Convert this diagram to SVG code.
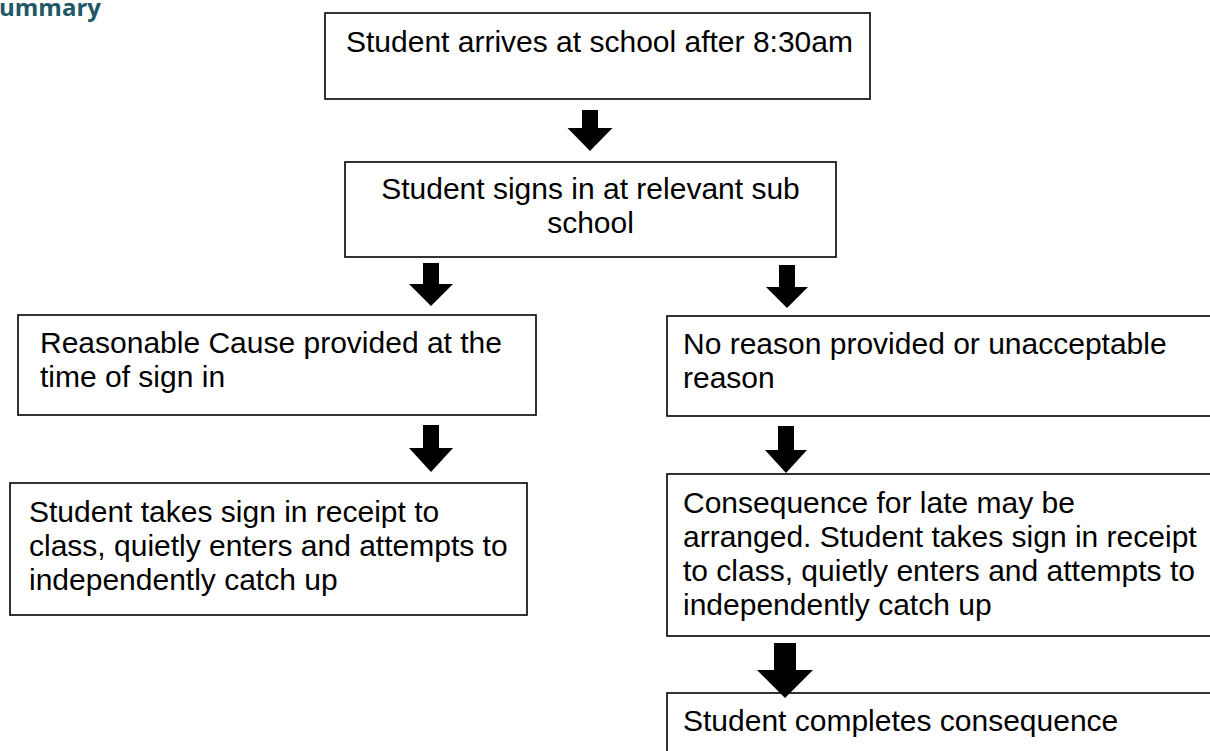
<svg xmlns="http://www.w3.org/2000/svg" width="1210" height="751" viewBox="0 0 1210 751">
<style>
.box{fill:#fff;stroke:#000;stroke-width:1.6}
.t{font-family:"Liberation Sans",Arial,sans-serif;font-size:30px;fill:#000}
.c{text-anchor:middle}
.arr{fill:#000;stroke:none}
.title{font-family:"Open Sans","Liberation Sans",sans-serif;font-weight:bold;font-size:24px;fill:#215868}
</style>
<rect width="1210" height="751" fill="#fff"/>
<text class="title" x="-1" y="16">ummary</text>
<g id="n1">
<rect class="box" x="325" y="13" width="545" height="86"/>
<text class="t" x="346" y="52">Student arrives at school after 8:30am</text>
</g>
<g id="n2">
<rect class="box" x="345" y="162" width="491" height="95"/>
<text class="t c" x="590.5" y="199">Student signs in at relevant sub</text>
<text class="t c" x="590.5" y="233">school</text>
</g>
<g id="n3">
<rect class="box" x="18" y="315" width="518" height="100"/>
<text class="t" x="40" y="353">Reasonable Cause provided at the</text>
<text class="t" x="40" y="387">time of sign in</text>
</g>
<g id="n4">
<rect class="box" x="667" y="316" width="560" height="100"/>
<text class="t" x="683" y="354">No reason provided or unacceptable</text>
<text class="t" x="683" y="388">reason</text>
</g>
<g id="n5">
<rect class="box" x="10" y="483" width="517" height="132"/>
<text class="t" x="29" y="522">Student takes sign in receipt to</text>
<text class="t" x="29" y="556">class, quietly enters and attempts to</text>
<text class="t" x="29" y="590">independently catch up</text>
</g>
<g id="n6">
<rect class="box" x="667" y="474" width="560" height="162"/>
<text class="t" x="683" y="513">Consequence for late may be</text>
<text class="t" x="683" y="547">arranged. Student takes sign in receipt</text>
<text class="t" x="683" y="581">to class, quietly enters and attempts to</text>
<text class="t" x="683" y="615">independently catch up</text>
</g>
<g id="n7">
<rect class="box" x="667" y="693" width="560" height="80"/>
<text class="t" x="683" y="731">Student completes consequence</text>
</g>
<g id="connectors">
<path class="arr" d="M582 110 H598 V128 H612.5 L590 151 L567.5 128 H582 Z"/>
<path class="arr" d="M423 263 H439 V284 H453 L431 306 L409 284 H423 Z"/>
<path class="arr" d="M779 265 H795 V287 H808 L787 308 L766 287 H779 Z"/>
<path class="arr" d="M423 425 H439 V448 H453 L431 472 L409 448 H423 Z"/>
<path class="arr" d="M778 426 H794 V450 H807 L786 473 L765 450 H778 Z"/>
<path class="arr" d="M774 643 H796 V670 H813 L785 698 L757 670 H774 Z"/>
</g>
</svg>
